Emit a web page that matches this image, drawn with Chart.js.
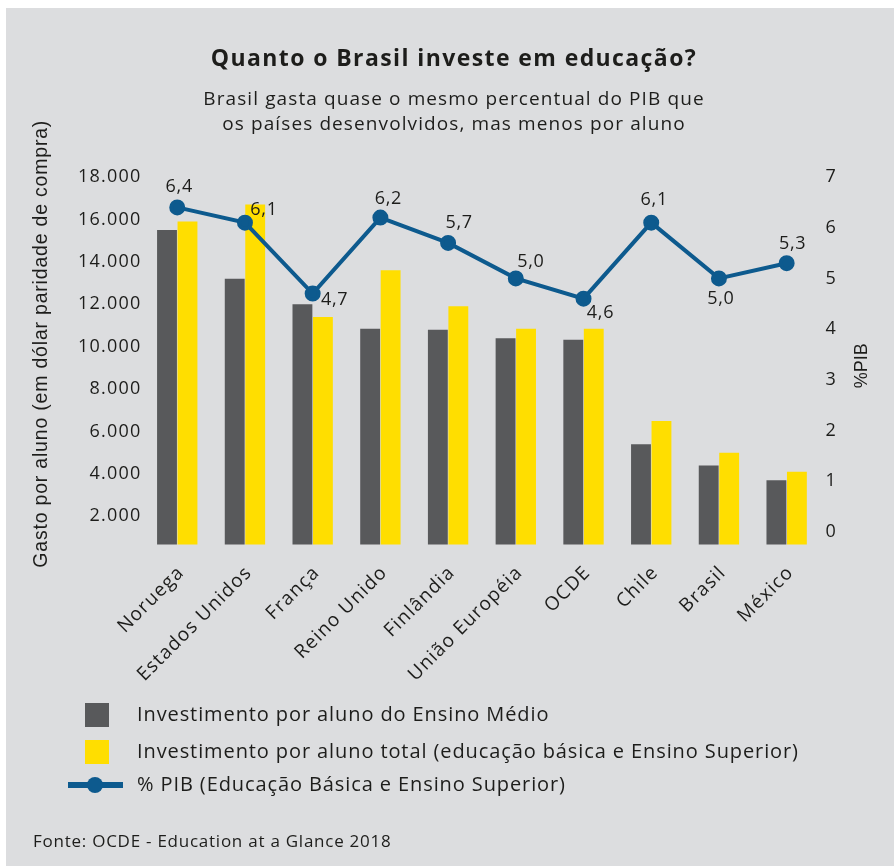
<!DOCTYPE html>
<html lang="pt-BR">
<head>
<meta charset="utf-8">
<script src="https://cdn.jsdelivr.net/npm/chart.js@4.4.1/dist/chart.umd.min.js"></script>
<style>
  html, body { margin: 0; padding: 0; background: #fff; }
  #wrap { position: relative; width: 894px; height: 866px; overflow: hidden; font-family: "Open Sans", sans-serif; color: #1d1d1b; }
  #bg { position: absolute; left: 6px; top: 8px; right: 0; bottom: 0; background: #dcdddf; }
  #c { position: absolute; left: 0; top: 0; }
  #title { position: absolute; left: 0; width: 908px; top: 43px; text-align: center; font-size: 23px; line-height: 28px; font-weight: 700; letter-spacing: 1.4px; }
  #subtitle { position: absolute; left: 0; width: 908px; top: 86px; text-align: center; font-size: 19px; line-height: 25px; letter-spacing: 1.1px; }
  .leg { position: absolute; left: 0; height: 30px; font-size: 20px; letter-spacing: 0.9px; white-space: nowrap; }
  .leg .sw { position: absolute; width: 24px; height: 24px; left: 85px; top: 3px; }
  .leg .ln { position: absolute; left: 68px; width: 55px; height: 6px; top: 12px; }
  .leg .dot { position: absolute; left: 87px; width: 16px; height: 16px; border-radius: 50%; top: 7px; }
  .leg .txt { position: absolute; left: 137px; top: 0px; }
  #source { position: absolute; left: 33px; top: 829px; font-size: 17px; letter-spacing: 0.75px; white-space: nowrap; }
</style>
</head>
<body>
<div id="wrap">
  <div id="bg"></div>
  <canvas id="c" width="894" height="866"></canvas>
  <div id="title">Quanto o Brasil investe em educação?</div>
  <div id="subtitle">Brasil gasta quase o mesmo percentual do PIB que<br>os países desenvolvidos, mas menos por aluno</div>
  <div id="legend"></div>
  <div id="source">Fonte: OCDE - Education at a Glance 2018</div>
</div>
<script>
const countries = ['Noruega', 'Estados Unidos', 'França', 'Reino Unido', 'Finlândia',
  'União Européia', 'OCDE', 'Chile', 'Brasil', 'México'];
const ensinoMedio = [15500, 13200, 12000, 10850, 10800, 10400, 10330, 5400, 4400, 3700];
const totalAluno = [15900, 16700, 11400, 13600, 11900, 10850, 10850, 6500, 5000, 4100];
const pibShare = [6.4, 6.1, 4.7, 6.2, 5.7, 5.0, 4.6, 6.1, 5.0, 5.3];
const leftTicks = [2000, 4000, 6000, 8000, 10000, 12000, 14000, 16000, 18000];
const rightTicks = [0, 1, 2, 3, 4, 5, 6, 7];
const seriesNames = [
  'Investimento por aluno do Ensino Médio',
  'Investimento por aluno total (educação básica e Ensino Superior)',
  '% PIB (Educação Básica e Ensino Superior)'
];
const yTitleText = 'Gasto por aluno (em dólar paridade de compra)';
const y1TitleText = '%PIB';

// where each value label sits relative to its point
const labelOffsets = [[2, -21], [19, -13], [22, 6], [8, -19], [11, -20],
  [15, -17], [17, 14], [3, -23], [2, 20], [6, -19]];

const DARK = '#58595b';
const YELLOW = '#ffde00';
const BLUE = '#0d5a8e';
const TEXT = '#1d1d1b';
const LETTER_SPACING = '1.2px';

function thousands(v) {
  return String(v).replace(/\B(?=(\d{3})+(?!\d))/g, '.');
}

// the original font is wider than anything installed, so open the letters up a bit
const spacing = {
  id: 'spacing',
  beforeLayout(chart) { chart.ctx.letterSpacing = LETTER_SPACING; },
  beforeDraw(chart) { chart.ctx.letterSpacing = LETTER_SPACING; }
};

// both axis titles read bottom-to-top, which chart.js does not do on the right side
const axisTitles = {
  id: 'axisTitles',
  afterDraw(chart) {
    const ctx = chart.ctx;
    const area = chart.chartArea;
    const midY = (area.top + area.bottom) / 2;
    ctx.save();
    ctx.fillStyle = TEXT;
    ctx.textAlign = 'center';
    ctx.textBaseline = 'middle';

    ctx.save();
    ctx.letterSpacing = '0.8px';
    ctx.font = '19.5px "Liberation Sans"';
    ctx.translate(42, midY - 17);
    ctx.rotate(-Math.PI / 2);
    ctx.fillText(yTitleText, 0, 0);
    ctx.restore();

    ctx.save();
    ctx.letterSpacing = '0px';
    ctx.font = '18px "Liberation Sans"';
    ctx.translate(862, midY + 5);
    ctx.rotate(-Math.PI / 2);
    ctx.fillText(y1TitleText, 0, 0);
    ctx.restore();

    ctx.restore();
  }
};

const pointLabels = {
  id: 'pointLabels',
  afterDatasetsDraw(chart) {
    const meta = chart.getDatasetMeta(2);
    const ctx = chart.ctx;
    ctx.save();
    ctx.letterSpacing = '0.7px';
    ctx.font = '18px "Open Sans"';
    ctx.fillStyle = TEXT;
    ctx.textAlign = 'center';
    ctx.textBaseline = 'middle';
    meta.data.forEach(function (pt, i) {
      const off = labelOffsets[i];
      ctx.fillText(pibShare[i].toFixed(1).replace('.', ','), pt.x + off[0], pt.y + off[1]);
    });
    ctx.restore();
  }
};

Chart.defaults.font.family = '"Open Sans"';
Chart.defaults.color = TEXT;

const chart = new Chart(document.getElementById('c').getContext('2d'), {
  type: 'bar',
  data: {
    labels: countries,
    datasets: [
      {
        label: seriesNames[0],
        data: ensinoMedio,
        backgroundColor: DARK,
        yAxisID: 'y',
        order: 1
      },
      {
        label: seriesNames[1],
        data: totalAluno,
        backgroundColor: YELLOW,
        yAxisID: 'y',
        order: 1
      },
      {
        type: 'line',
        label: seriesNames[2],
        data: pibShare,
        borderColor: BLUE,
        backgroundColor: BLUE,
        borderWidth: 4,
        pointRadius: 6,
        pointHoverRadius: 6,
        tension: 0,
        yAxisID: 'y1',
        order: 0
      }
    ]
  },
  options: {
    responsive: false,
    devicePixelRatio: 1,
    animation: false,
    categoryPercentage: 0.605,
    barPercentage: 0.97,
    layout: {
      padding: { top: 177, left: 76, right: 52, bottom: 163 }
    },
    scales: {
      x: {
        grid: { display: false, drawTicks: false },
        border: { display: false },
        ticks: {
          autoSkip: false,
          maxRotation: 45,
          minRotation: 45,
          padding: 17,
          labelOffset: 4,
          font: { size: 19 }
        }
      },
      y: {
        position: 'left',
        min: 668,
        max: 18000,
        afterBuildTicks: function (scale) {
          scale.ticks = leftTicks.map(function (v) { return { value: v }; });
        },
        grid: { display: false, drawTicks: false },
        border: { display: false },
        ticks: {
          padding: 2,
          font: { size: 18 },
          callback: function (v) { return thousands(v); }
        }
      },
      y1: {
        position: 'right',
        min: -0.25,
        max: 7,
        afterBuildTicks: function (scale) {
          scale.ticks = rightTicks.map(function (v) { return { value: v }; });
        },
        grid: { display: false, drawTicks: false },
        border: { display: false },
        ticks: {
          padding: 5,
          font: { size: 18 }
        }
      }
    },
    plugins: {
      legend: { display: false },
      tooltip: { enabled: false }
    }
  },
  plugins: [spacing, axisTitles, pointLabels]
});

// legend built from the datasets
const legendTops = [700, 737, 770];
const legend = document.getElementById('legend');
chart.data.datasets.forEach(function (ds, i) {
  const row = document.createElement('div');
  row.className = 'leg';
  row.style.top = legendTops[i] + 'px';
  if (ds.type === 'line') {
    row.innerHTML = '<span class="ln" style="background:' + ds.borderColor + '"></span>' +
      '<span class="dot" style="background:' + ds.borderColor + '"></span>';
  } else {
    row.innerHTML = '<span class="sw" style="background:' + ds.backgroundColor + '"></span>';
  }
  const t = document.createElement('span');
  t.className = 'txt';
  t.textContent = ds.label;
  row.appendChild(t);
  legend.appendChild(row);
});
</script>
</body>
</html>
